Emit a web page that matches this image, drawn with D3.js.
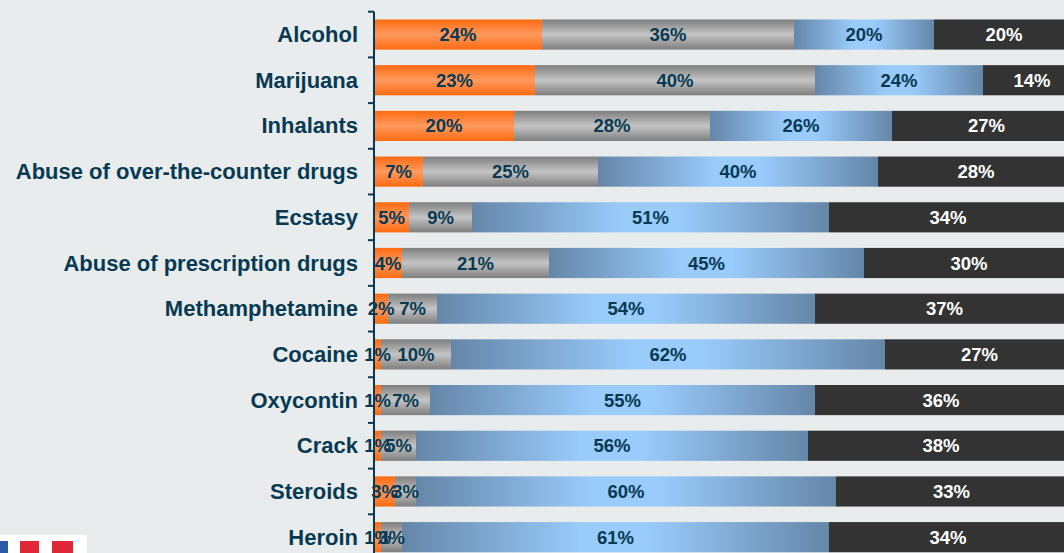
<!DOCTYPE html>
<html><head><meta charset="utf-8">
<script src="https://cdn.jsdelivr.net/npm/d3@7"></script>
<style>
html,body{margin:0;padding:0;background:#e8eced;overflow:hidden}
text{font-family:"Liberation Sans",Arial,sans-serif;font-weight:bold}
</style></head><body>
<svg id="c" width="1064" height="553"></svg>
<script>
const categories = ["Alcohol","Marijuana","Inhalants","Abuse of over-the-counter drugs","Ecstasy","Abuse of prescription drugs","Methamphetamine","Cocaine","Oxycontin","Crack","Steroids","Heroin"];
const seriesNames = ["s1","s2","s3","s4"];
const s1 = [24,23,20,7,5,4,2,1,1,1,3,1];
const s2 = [36,40,28,25,9,21,7,10,7,5,3,3];
const s3 = [20,24,26,40,51,45,54,62,55,56,60,61];
const s4 = [20,14,27,28,34,30,37,27,36,38,33,34];
const seriesValues = [s1,s2,s3,s4];

const svg = d3.select("#c");
const W = 1064, H = 553;
svg.append("rect").attr("width",W).attr("height",H).attr("fill","#e8eced");

const defs = svg.append("defs");
function vgrad(id, edge, mid){
  const g = defs.append("linearGradient").attr("id",id).attr("x1",0).attr("y1",0).attr("x2",0).attr("y2",1);
  g.append("stop").attr("offset","0%").attr("stop-color",edge);
  g.append("stop").attr("offset","50%").attr("stop-color",mid);
  g.append("stop").attr("offset","100%").attr("stop-color",edge);
}
vgrad("gOrange","#ff6a10","#ff9a60");
vgrad("gGray","#7e7e7e","#c4c4c4");
const hb = defs.append("linearGradient").attr("id","gBlue").attr("x1",0).attr("y1",0).attr("x2",1).attr("y2",0);
[[0,"#6586a8"],[0.42,"#99cbfb"],[0.58,"#99cbfb"],[1,"#6586a8"]].forEach(s=>hb.append("stop").attr("offset",s[0]).attr("stop-color",s[1]));
const fills = ["url(#gOrange)","url(#gGray)","url(#gBlue)","#333333"];
const labelColors = ["#073a52","#073a52","#073a52","#ffffff"];

const x = d3.scaleLinear().domain([0,100]).range([374,1074]);
const y = d3.scaleBand().domain(categories).range([11.7,560]).paddingInner(0.34).paddingOuter(0.17);

const rows = categories.map((c,i)=>({cat:c, vals:seriesValues.map(s=>s[i])}));
const stack = d3.stack().keys([0,1,2,3]).value((d,k)=>d.vals[k])(rows);

stack.forEach((layer,k)=>{
  const g = svg.append("g");
  g.selectAll("rect").data(layer).enter().append("rect")
    .attr("x",d=>x(d[0])).attr("width",d=>x(d[1])-x(d[0]))
    .attr("y",d=>y(d.data.cat)).attr("height",y.bandwidth())
    .attr("fill",fills[k]);
});
stack.forEach((layer,k)=>{
  svg.append("g").selectAll("text").data(layer).enter().append("text")
    .attr("x",d=>(x(d[0])+x(d[1]))/2)
    .attr("y",d=>y(d.data.cat)+y.bandwidth()/2+6.5)
    .attr("text-anchor","middle").attr("font-size","18.5px")
    .attr("fill",labelColors[k])
    .text(d=>d.data.vals[k]+"%");
});

// axis
const step = y.step();
const ax = svg.append("g").attr("transform","translate(374,0)");
ax.call(d3.axisLeft(y).tickSize(0).tickFormat(""));
ax.select(".domain").attr("stroke","#073a52").attr("stroke-width",2).attr("d","M0,11.7V560");
const bounds = d3.range(categories.length+1).map(i=>11.7+i*step);
ax.selectAll(".bt").data(bounds).enter().append("line")
  .attr("x1",-6).attr("x2",0).attr("y1",d=>d).attr("y2",d=>d)
  .attr("stroke","#073a52").attr("stroke-width",2);

svg.append("g").selectAll("text").data(categories).enter().append("text")
  .attr("x",358).attr("y",d=>y(d)+y.bandwidth()/2+7.5)
  .attr("text-anchor","end").attr("font-size","22px").attr("fill","#073a52")
  .text(d=>d);

// logo fragment bottom-left
const lg = svg.append("g");
lg.append("rect").attr("x",0).attr("y",535).attr("width",87).attr("height",18).attr("fill","#ffffff");
lg.append("rect").attr("x",0).attr("y",541).attr("width",8).attr("height",12).attr("fill","#2a5aa8");
lg.append("rect").attr("x",20).attr("y",541).attr("width",19).attr("height",12).attr("fill","#e0283a");
lg.append("rect").attr("x",52).attr("y",541).attr("width",21).attr("height",12).attr("fill","#e0283a");
</script></body></html>
